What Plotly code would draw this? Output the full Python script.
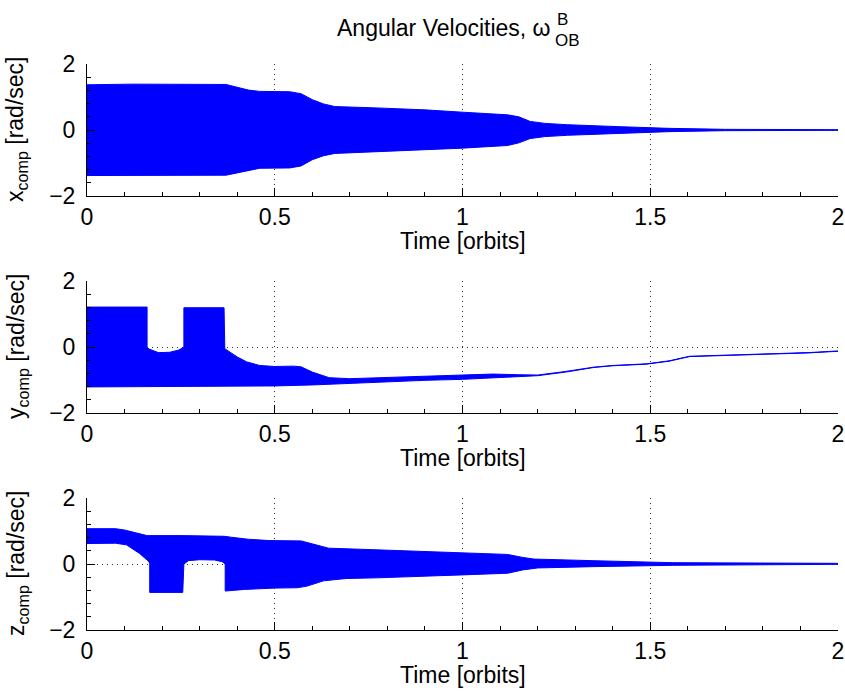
import plotly.graph_objects as go

# ---------------- data ----------------
# x component: envelope of the fast oscillation
tx = [0, 0.12, 0.37, 0.40, 0.43, 0.46, 0.54, 0.57, 0.60, 0.63, 0.66, 0.77, 0.90, 1.00,
      1.12, 1.15, 1.18, 1.22, 1.28, 1.42, 1.55, 1.70, 2.00]
x_upper = [1.37, 1.39, 1.38, 1.30, 1.21, 1.17, 1.16, 1.10, 0.92, 0.79, 0.71, 0.67, 0.61, 0.54,
           0.46, 0.40, 0.26, 0.20, 0.16, 0.10, 0.05, 0.02, 0.01]
x_lower = [-1.38, -1.38, -1.37, -1.30, -1.22, -1.16, -1.15, -1.09, -0.90, -0.78, -0.71, -0.66,
           -0.60, -0.55, -0.47, -0.39, -0.26, -0.20, -0.16, -0.10, -0.05, -0.02, -0.01]

# y component
ty_up = [0, 0.16, 0.16, 0.165, 0.19, 0.22, 0.245, 0.258, 0.258, 0.365, 0.367, 0.40, 0.425,
         0.46, 0.50, 0.55, 0.57, 0.60, 0.645, 0.70, 0.78, 0.90, 1.00, 1.08, 1.15, 1.20,
         1.275, 1.35, 1.40, 1.49, 1.55, 1.605, 1.635, 1.78, 1.92, 2.00]
y_upper = [1.21, 1.21, 0.0, -0.06, -0.17, -0.16, -0.09, 0.0, 1.19, 1.19, -0.05, -0.30, -0.45,
           -0.56, -0.59, -0.58, -0.60, -0.76, -0.93, -0.96, -0.93, -0.88, -0.86, -0.82, -0.84,
           -0.85, -0.74, -0.61, -0.56, -0.51, -0.42, -0.28, -0.27, -0.22, -0.17, -0.12]
ty_lo = [0, 0.37, 0.50, 0.60, 0.70, 0.80, 0.90, 1.00, 1.10, 1.15, 1.20, 1.275, 1.35, 1.40,
         1.49, 1.55, 1.605, 1.635, 1.78, 1.92, 2.00]
y_lower = [-1.21, -1.20, -1.18, -1.15, -1.10, -1.05, -1.01, -0.98, -0.92, -0.89, -0.87, -0.76,
           -0.62, -0.57, -0.52, -0.43, -0.29, -0.28, -0.23, -0.18, -0.13]

# z component
tz_up = [0, 0.076, 0.10, 0.14, 0.16, 0.255, 0.365, 0.385, 0.43, 0.485, 0.57, 0.60, 0.643,
         0.77, 1.00, 1.12, 1.16, 1.19, 1.35, 1.56, 2.00]
z_upper = [1.07, 1.07, 1.03, 0.91, 0.86, 0.86, 0.84, 0.81, 0.75, 0.71, 0.70, 0.61, 0.48,
           0.43, 0.34, 0.29, 0.20, 0.15, 0.10, 0.04, 0.02]
tz_lo = [0, 0.076, 0.105, 0.14, 0.162, 0.167, 0.167, 0.255, 0.258, 0.27, 0.30, 0.34, 0.36,
         0.368, 0.368, 0.42, 0.50, 0.56, 0.586, 0.63, 0.69, 0.77, 1.00, 1.12, 1.16, 1.20,
         1.35, 1.56, 2.00]
z_lower = [0.62, 0.63, 0.58, 0.32, 0.10, 0.03, -0.86, -0.86, 0.0, 0.10, 0.13, 0.12, 0.07,
           0.0, -0.82, -0.77, -0.73, -0.72, -0.67, -0.51, -0.44, -0.42, -0.33, -0.28, -0.18,
           -0.12, -0.08, -0.04, -0.01]

x_ticks = [0, 0.5, 1, 1.5, 2]
x_ticklabels = ["0", "0.5", "1", "1.5", "2"]
y_ticks = [-2, 0, 2]

ylabels = ["x<sub>comp</sub> [rad/sec]", "y<sub>comp</sub> [rad/sec]", "z<sub>comp</sub> [rad/sec]"]
xlabel = "Time [orbits]"

# ---------------- figure ----------------
W, H = 845, 695
FONT = "Liberation Sans, Arial, Helvetica, sans-serif"
FS = 23
BLUE = "#0000ff"

fig = go.Figure()

series = [
    (tx, x_upper, tx, x_lower),
    (ty_up, y_upper, ty_lo, y_lower),
    (tz_up, z_upper, tz_lo, z_lower),
]

# axes geometry in pixels (top, bottom) of each plot box
boxes = [(64, 196), (281, 413), (498, 630)]
xl, xr = 87, 838

for i, (tu, vu, tl, vl) in enumerate(series):
    suf = "" if i == 0 else str(i + 1)
    fig.add_trace(go.Scatter(x=tl, y=vl, mode="lines", line=dict(color=BLUE, width=1),
                             xaxis="x" + suf, yaxis="y" + suf, showlegend=False,
                             hoverinfo="skip"))
    fig.add_trace(go.Scatter(x=tu, y=vu, mode="lines", line=dict(color=BLUE, width=1),
                             fill="tonexty", fillcolor=BLUE,
                             xaxis="x" + suf, yaxis="y" + suf, showlegend=False,
                             hoverinfo="skip"))

axis_common = dict(
    showline=True, linecolor="black", linewidth=1, mirror=False, automargin=False,
    showgrid=True, gridcolor="#333333", griddash="1px,4px", gridwidth=1,
    zeroline=False, ticks="inside", ticklen=8, tickcolor="black",
    tickfont=dict(family=FONT, size=FS, color="black"),
)

layout = dict(
    template="none",
    width=W, height=H, margin=dict(l=0, r=0, t=0, b=0, pad=0, autoexpand=False),
    paper_bgcolor="white", plot_bgcolor="white",
    font=dict(family=FONT, color="black"),
    annotations=[],
)

for i, (top, bot) in enumerate(boxes):
    suf = "" if i == 0 else str(i + 1)
    layout["xaxis" + suf] = dict(
        axis_common, domain=[xl / W, xr / W], range=[0, 2],
        tickvals=x_ticks, ticktext=x_ticklabels, anchor="y" + suf,
        ticklabelstandoff=0,
        minor=dict(ticks="inside", ticklen=4, dtick=0.1, tickcolor="black", showgrid=False),
    )
    layout["yaxis" + suf] = dict(
        axis_common, domain=[1 - bot / H, 1 - top / H], range=[-2, 2],
        tickvals=y_ticks, anchor="x" + suf, ticklabelstandoff=6,
        minor=dict(ticks="inside", ticklen=4, dtick=0.4, tickcolor="black", showgrid=False),
    )
    # x label
    layout["annotations"].append(dict(
        text=xlabel, x=((xl + xr) / 2) / W, y=1 - (bot + 45) / H,
        xref="paper", yref="paper", xanchor="center", yanchor="middle",
        showarrow=False, font=dict(family=FONT, size=FS, color="black")))
    # y label
    layout["annotations"].append(dict(
        text=ylabels[i], x=17 / W, y=1 - ((top + bot) / 2) / H, textangle=-90,
        xref="paper", yref="paper", xanchor="center", yanchor="middle",
        showarrow=False, font=dict(family=FONT, size=FS, color="black")))

# title: "Angular Velocities, ω" with stacked superscript B and subscript OB
layout["annotations"] += [
    dict(text="Angular Velocities, ω", x=553 / W, y=1 - 28 / H, xref="paper", yref="paper",
         xanchor="right", yanchor="middle", showarrow=False,
         font=dict(family=FONT, size=FS, color="black")),
    dict(text="B", x=555 / W, y=1 - 19 / H, xref="paper", yref="paper",
         xanchor="left", yanchor="middle", showarrow=False,
         font=dict(family=FONT, size=17, color="black")),
    dict(text="OB", x=553 / W, y=1 - 41 / H, xref="paper", yref="paper",
         xanchor="left", yanchor="middle", showarrow=False,
         font=dict(family=FONT, size=17, color="black")),
]

fig.update_layout(**layout)
fig.write_html("out.html", config={"displayModeBar": False},
               post_script="document.body.style.margin='0';document.body.style.overflow='hidden';")
